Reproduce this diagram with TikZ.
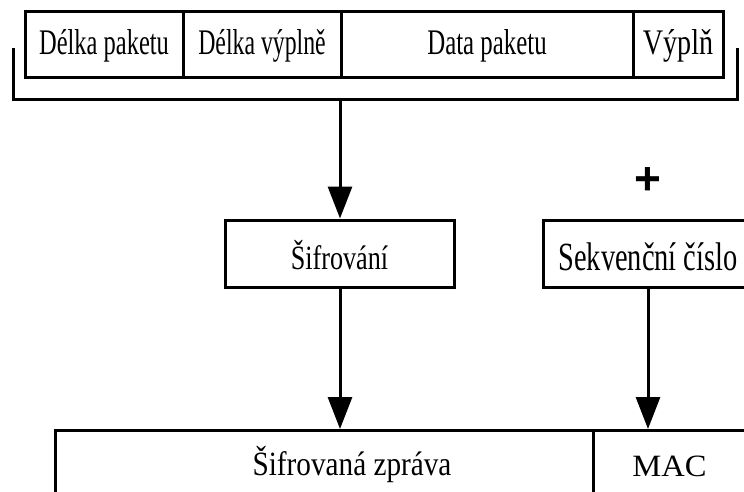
\documentclass[tikz,border=0pt]{standalone}
\usepackage{graphicx}
\usepackage{fontspec}
\setmainfont{Liberation Serif}
\newfontfamily\plusfont{Liberation Sans}
\usetikzlibrary{arrows.meta}
\newcommand{\hsq}[2]{\scalebox{#1}[1]{#2}}
\begin{document}
\begin{tikzpicture}[x=1pt,y={(0pt,-1pt)},
  box/.style={draw, line width=3pt, inner sep=0pt},
  toprow/.style={box, minimum height=66pt, text height=24pt, text depth=4pt, font=\fontsize{36}{40}\selectfont},
  midrow/.style={box, minimum height=67pt, font=\fontsize{#1}{40}\selectfont},
  lbl/.style={inner sep=0pt, anchor=base},
  arr/.style={line width=3pt, -{Triangle[length=32pt,width=24pt]}},
  brk/.style={line width=3pt}]
\useasboundingbox (0,0) rectangle (744,492);
\clip (0,0) rectangle (744,492);
% top fields
\node[toprow, minimum width=158pt] (f1) at (104,45) {\hsq{0.68}{Délka paketu}};
\node[toprow, minimum width=158pt] (f2) at (262,45) {\hsq{0.66}{Délka výplně}};
\node[toprow, minimum width=292pt] (f3) at (487,45) {\hsq{0.69}{Data paketu}};
\node[toprow, minimum width=90pt] (f4) at (678,45) {\hsq{0.78}{Výplň}};
% bracket
\coordinate (bl) at (13,48);
\coordinate (br) at (737,48);
\coordinate (bm) at (340,100);
\draw[brk] (bl) |- (bm -| br) -- (br);
% middle
\node[midrow=34, minimum width=229pt, text height=33pt, text depth=2pt] (sif) at (339.5,253.5) {\hsq{0.77}{Šifrování}};
\node[midrow=40, minimum width=210pt, text height=35pt, text depth=2pt] (seq) at (648,253.5) {\hsq{0.71}{Sekvenční číslo}};
\node[inner sep=0pt, font=\plusfont\bfseries\fontsize{46}{46}\selectfont] (plus) at (648,181) {+};
% bottom
\node[box, anchor=north west, minimum width=538pt, minimum height=92pt] (msg) at (54,429) {};
\node[box, anchor=north west, minimum width=152pt, minimum height=92pt, text height=10pt, text depth=10pt, font=\fontsize{31}{40}\selectfont] (mac) at (592,429) {\hsq{1.05}{MAC}};
\node[lbl, font=\fontsize{34}{40}\selectfont] (msgtxt) at (352,475) {\hsq{0.86}{Šifrovaná zpráva}};
% arrows
\draw[arr] (bm) -- (bm |- sif.north);
\draw[arr] (sif.south -| bm) -- (bm |- msg.north);
\draw[arr] (seq.south) -- (seq.south |- msg.north);
\end{tikzpicture}
\end{document}
